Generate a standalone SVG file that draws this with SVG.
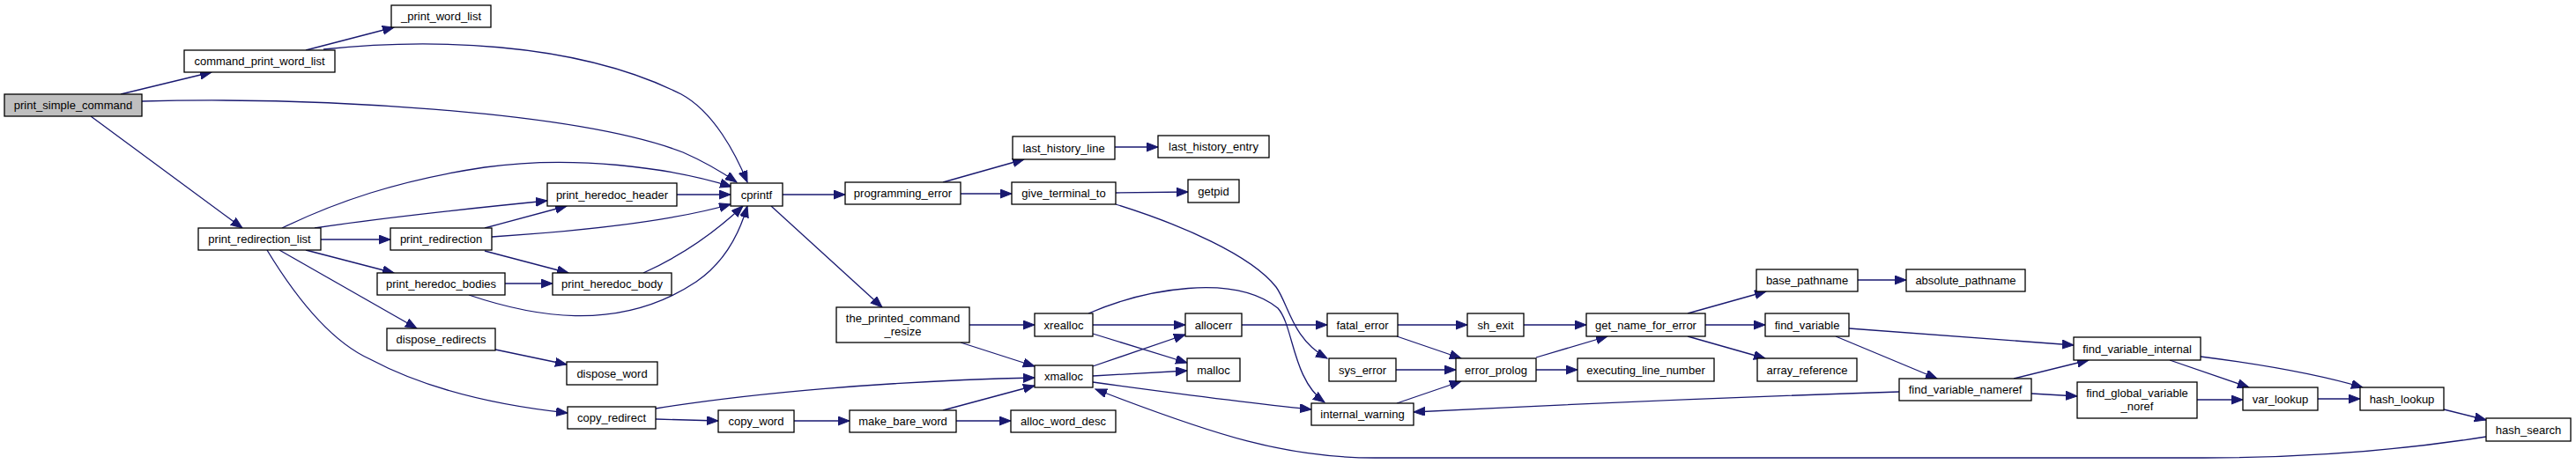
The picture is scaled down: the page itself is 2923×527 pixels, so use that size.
<svg xmlns="http://www.w3.org/2000/svg" width="2923" height="527" viewBox="0 0 2923 527">
<style>
.node rect{fill:#ffffff;stroke:#000000;stroke-width:1.3}
.node.root rect{fill:#bfbfbf}
.node text{font-family:"Liberation Sans",Arial,sans-serif;font-size:13px;text-anchor:middle;fill:#000000}
.edges path{fill:none;stroke:#191970;stroke-width:1.3;marker-end:url(#ah)}
</style>
<defs>
<marker id="ah" markerWidth="15" markerHeight="12" refX="13" refY="5" orient="auto" markerUnits="userSpaceOnUse">
<path d="M0,0 L13,5 L0,10 z" fill="#191970" stroke="#191970" stroke-width="1"/>
</marker>
</defs>
<rect width="2923" height="527" fill="#ffffff"/>
<g class="edges">
<path d="M137,107 L240,82"/>
<path d="M161,115 C350,110 650,125 775,173 C800,184 820,196 836,207"/>
<path d="M347,57 L447,31"/>
<path d="M367,56 C480,44 650,45 773,107 C810,127 835,175 848,207"/>
<path d="M103,132 L275,259"/>
<path d="M320,259 C380,230 450,205 550,190 C650,176 760,190 830,212"/>
<path d="M357,259 C430,248 530,237 621,228"/>
<path d="M364,272 L443,272"/>
<path d="M347,284 L447,310"/>
<path d="M317,284 L473,373"/>
<path d="M303,284 C340,345 380,390 420,408 C480,440 560,460 644,469"/>
<path d="M550,259 L643,234"/>
<path d="M558,269 C650,263 760,252 829,232"/>
<path d="M550,285 L645,310"/>
<path d="M768,221 L829,221"/>
<path d="M573,322 L627,322"/>
<path d="M730,310 C770,292 810,265 843,234"/>
<path d="M532,335 C600,358 700,380 790,320 C825,296 840,262 848,234"/>
<path d="M562,397 L643,414"/>
<path d="M744,476 L815,478"/>
<path d="M744,464 C850,447 1000,433 1174,429"/>
<path d="M901,478 L964,478"/>
<path d="M1070,466 L1174,438"/>
<path d="M1085,478 L1147,478"/>
<path d="M888,221 L959,221"/>
<path d="M875,234 L1001,349"/>
<path d="M1100,369 L1174,369"/>
<path d="M1090,389 L1174,416"/>
<path d="M1240,369 L1345,369"/>
<path d="M1240,379 L1347,412"/>
<path d="M1240,416 L1345,380"/>
<path d="M1240,427 L1347,421"/>
<path d="M1240,434 C1320,445 1400,456 1488,465"/>
<path d="M1235,356 C1300,328 1400,310 1450,350 C1468,370 1466,430 1503,457"/>
<path d="M1266,232 C1340,255 1420,290 1448,326 C1462,345 1466,385 1506,407"/>
<path d="M2821,496 C2720,512 2620,520 2500,520 L1560,520 C1460,520 1380,495 1243,442"/>
<path d="M2155,445 C2000,450 1800,458 1604,468"/>
<path d="M1409,369 L1506,369"/>
<path d="M1586,369 L1665,369"/>
<path d="M1585,382 L1658,407"/>
<path d="M1584,420 L1652,420"/>
<path d="M1585,458 L1658,433"/>
<path d="M1729,369 L1800,369"/>
<path d="M1743,406 L1824,382"/>
<path d="M1743,420 L1790,420"/>
<path d="M1915,356 L2004,331"/>
<path d="M1935,369 L2003,369"/>
<path d="M1915,382 L2003,407"/>
<path d="M2108,318 L2163,318"/>
<path d="M2098,373 L2353,392"/>
<path d="M2083,382 L2198,430"/>
<path d="M2285,430 L2370,409"/>
<path d="M2305,447 L2357,450"/>
<path d="M2462,409 L2552,440"/>
<path d="M2497,405 C2560,413 2630,425 2681,440"/>
<path d="M2493,454 L2545,454"/>
<path d="M2630,453 L2678,453"/>
<path d="M2773,465 L2821,477"/>
<path d="M1070,207 L1162,181"/>
<path d="M1090,220 L1148,220"/>
<path d="M1265,167 L1314,167"/>
<path d="M1266,219 L1348,218"/>
</g>
<g id="print_simple_command" class="node root"><rect x="5" y="107" width="156" height="25"/><text x="83" y="124">print_simple_command</text></g>
<g id="command_print_word_list" class="node"><rect x="209" y="57" width="171" height="25"/><text x="294.5" y="74">command_print_word_list</text></g>
<g id="_print_word_list" class="node"><rect x="444" y="6" width="113" height="25"/><text x="500.5" y="23">_print_word_list</text></g>
<g id="print_redirection_list" class="node"><rect x="225" y="259" width="139" height="25"/><text x="294.5" y="276">print_redirection_list</text></g>
<g id="print_redirection" class="node"><rect x="443" y="259" width="115" height="25"/><text x="500.5" y="276">print_redirection</text></g>
<g id="print_heredoc_header" class="node"><rect x="621" y="208" width="147" height="26"/><text x="694.5" y="225.5">print_heredoc_header</text></g>
<g id="cprintf" class="node"><rect x="829" y="208" width="59" height="26"/><text x="858.5" y="225.5">cprintf</text></g>
<g id="print_heredoc_bodies" class="node"><rect x="428" y="310" width="145" height="25"/><text x="500.5" y="327">print_heredoc_bodies</text></g>
<g id="print_heredoc_body" class="node"><rect x="627" y="310" width="135" height="25"/><text x="694.5" y="327">print_heredoc_body</text></g>
<g id="dispose_redirects" class="node"><rect x="439" y="373" width="123" height="25"/><text x="500.5" y="390">dispose_redirects</text></g>
<g id="dispose_word" class="node"><rect x="643" y="411" width="103" height="26"/><text x="694.5" y="428.5">dispose_word</text></g>
<g id="copy_redirect" class="node"><rect x="644" y="462" width="100" height="25"/><text x="694" y="479">copy_redirect</text></g>
<g id="copy_word" class="node"><rect x="815" y="466" width="86" height="25"/><text x="858" y="483">copy_word</text></g>
<g id="make_bare_word" class="node"><rect x="964" y="466" width="121" height="25"/><text x="1024.5" y="483">make_bare_word</text></g>
<g id="alloc_word_desc" class="node"><rect x="1147" y="466" width="119" height="25"/><text x="1206.5" y="483">alloc_word_desc</text></g>
<g id="programming_error" class="node"><rect x="959" y="207" width="131" height="25"/><text x="1024.5" y="224">programming_error</text></g>
<g id="last_history_line" class="node"><rect x="1149" y="155" width="116" height="26"/><text x="1207" y="172.5">last_history_line</text></g>
<g id="last_history_entry" class="node"><rect x="1314" y="154" width="126" height="25"/><text x="1377" y="171">last_history_entry</text></g>
<g id="give_terminal_to" class="node"><rect x="1148" y="207" width="118" height="25"/><text x="1207" y="224">give_terminal_to</text></g>
<g id="getpid" class="node"><rect x="1348" y="204" width="58" height="26"/><text x="1377" y="221.5">getpid</text></g>
<g id="the_printed_command_resize" class="node"><rect x="949" y="349" width="151" height="40"/><text x="1024.5" y="365.5">the_printed_command</text><text x="1024.5" y="380.5">_resize</text></g>
<g id="xrealloc" class="node"><rect x="1174" y="356" width="66" height="26"/><text x="1207" y="373.5">xrealloc</text></g>
<g id="xmalloc" class="node"><rect x="1174" y="415" width="66" height="25"/><text x="1207" y="432">xmalloc</text></g>
<g id="allocerr" class="node"><rect x="1345" y="356" width="64" height="26"/><text x="1377" y="373.5">allocerr</text></g>
<g id="malloc" class="node"><rect x="1347" y="407" width="60" height="26"/><text x="1377" y="424.5">malloc</text></g>
<g id="fatal_error" class="node"><rect x="1506" y="356" width="80" height="26"/><text x="1546" y="373.5">fatal_error</text></g>
<g id="sys_error" class="node"><rect x="1508" y="407" width="76" height="26"/><text x="1546" y="424.5">sys_error</text></g>
<g id="internal_warning" class="node"><rect x="1488" y="458" width="116" height="25"/><text x="1546" y="475">internal_warning</text></g>
<g id="sh_exit" class="node"><rect x="1665" y="356" width="64" height="26"/><text x="1697" y="373.5">sh_exit</text></g>
<g id="error_prolog" class="node"><rect x="1652" y="407" width="91" height="26"/><text x="1697.5" y="424.5">error_prolog</text></g>
<g id="get_name_for_error" class="node"><rect x="1800" y="356" width="135" height="26"/><text x="1867.5" y="373.5">get_name_for_error</text></g>
<g id="executing_line_number" class="node"><rect x="1790" y="407" width="155" height="26"/><text x="1867.5" y="424.5">executing_line_number</text></g>
<g id="base_pathname" class="node"><rect x="1993" y="306" width="115" height="25"/><text x="2050.5" y="323">base_pathname</text></g>
<g id="absolute_pathname" class="node"><rect x="2163" y="306" width="135" height="25"/><text x="2230.5" y="323">absolute_pathname</text></g>
<g id="find_variable" class="node"><rect x="2003" y="356" width="95" height="26"/><text x="2050.5" y="373.5">find_variable</text></g>
<g id="array_reference" class="node"><rect x="1994" y="407" width="113" height="26"/><text x="2050.5" y="424.5">array_reference</text></g>
<g id="find_variable_nameref" class="node"><rect x="2155" y="430" width="150" height="25"/><text x="2230" y="447">find_variable_nameref</text></g>
<g id="find_variable_internal" class="node"><rect x="2353" y="383" width="144" height="26"/><text x="2425" y="400.5">find_variable_internal</text></g>
<g id="find_global_variable_noref" class="node"><rect x="2357" y="434" width="136" height="41"/><text x="2425" y="451">find_global_variable</text><text x="2425" y="466">_noref</text></g>
<g id="var_lookup" class="node"><rect x="2545" y="440" width="85" height="26"/><text x="2587.5" y="457.5">var_lookup</text></g>
<g id="hash_lookup" class="node"><rect x="2678" y="440" width="95" height="26"/><text x="2725.5" y="457.5">hash_lookup</text></g>
<g id="hash_search" class="node"><rect x="2821" y="475" width="96" height="26"/><text x="2869" y="492.5">hash_search</text></g>
</svg>
